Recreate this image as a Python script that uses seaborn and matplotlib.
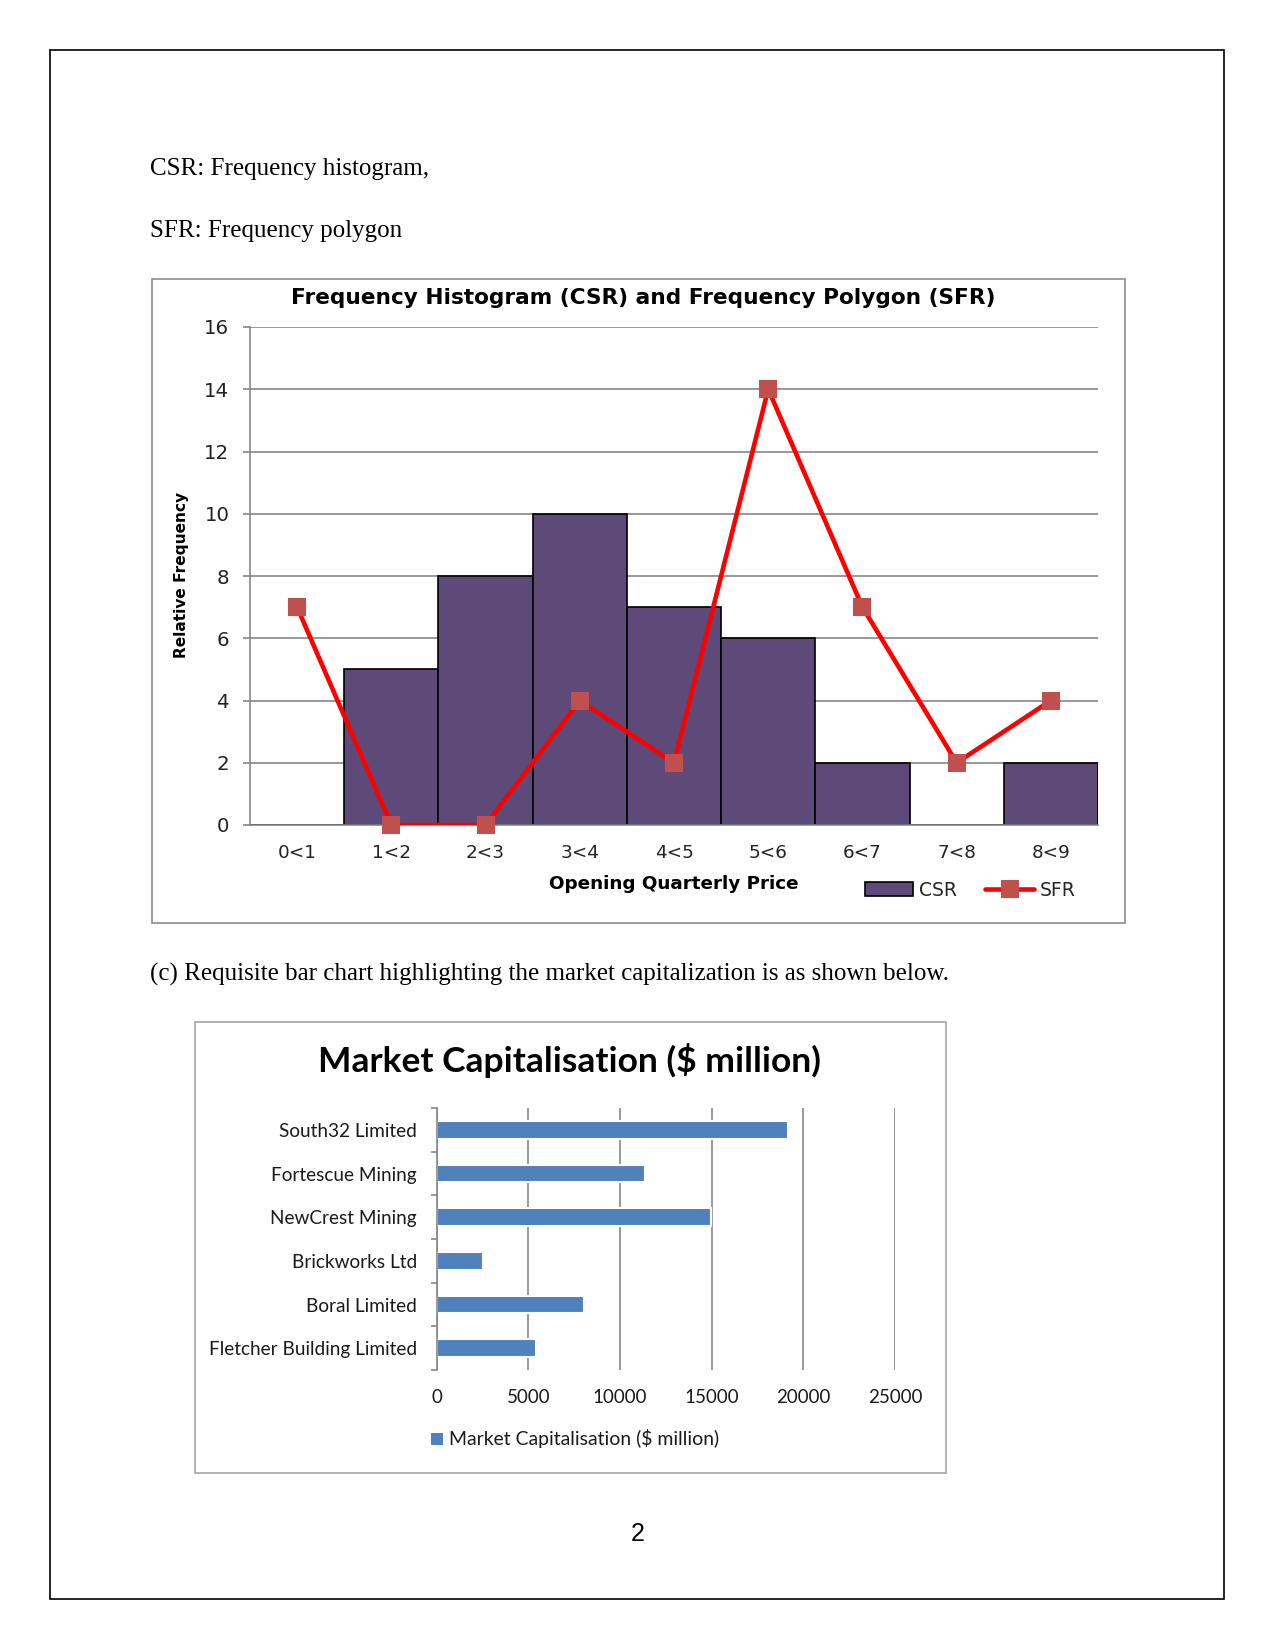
import matplotlib
matplotlib.use("Agg")
import matplotlib.pyplot as plt
import seaborn as sns
import pandas as pd
from matplotlib.patches import Rectangle, Patch
from matplotlib.lines import Line2D

# ---------------- data ----------------
price_bins = ["0<1", "1<2", "2<3", "3<4", "4<5", "5<6", "6<7", "7<8", "8<9"]
csr_freq = [0, 5, 8, 10, 7, 6, 2, 0, 2]
sfr_freq = [7, 0, 0, 4, 2, 14, 7, 2, 4]
freq_ticks = [0, 2, 4, 6, 8, 10, 12, 14, 16]

companies = ["South32 Limited", "Fortescue Mining", "NewCrest Mining",
             "Brickworks Ltd", "Boral Limited", "Fletcher Building Limited"]
market_cap = [19160, 11390, 14980, 2510, 8060, 5420]
cap_ticks = [0, 5000, 10000, 15000, 20000, 25000]

# ---------------- layout helpers ----------------
W, H = 1275, 1650
sns.set_theme(style="white")
plt.rcParams['font.family'] = ['DejaVu Sans']

fig = plt.figure(figsize=(8.5, 11), dpi=150)
fig.patch.set_facecolor("white")


def fx(x):
    return x / W


def fy(y):
    return 1 - y / H


def rect(l, t, r, b):
    return [l / W, 1 - b / H, (r - l) / W, (b - t) / H]


def box(l, t, r, b, color, lw):
    fig.patches.append(Rectangle((l / W, 1 - b / H), (r - l) / W, (b - t) / H,
                                 transform=fig.transFigure, fill=False,
                                 edgecolor=color, linewidth=lw, zorder=0))


# page border
box(50, 50, 1224, 1599, "black", 0.8)
# chart boxes
box(151.5, 278.8, 1124.6, 922.6, "#8c8c8c", 0.8)
box(194.6, 1021.5, 945.7, 1472.8, "#a6a6a6", 0.8)

serif = ["Liberation Serif", "DejaVu Serif"]
fig.text(fx(150), fy(175), "CSR: Frequency histogram,", family=serif,
         fontsize=12, va="baseline", ha="left", color="black")
fig.text(fx(150), fy(237), "SFR: Frequency polygon", family=serif,
         fontsize=12, va="baseline", ha="left", color="black")
fig.text(fx(150), fy(981),
         "(c) Requisite bar chart highlighting the market capitalization is as shown below.",
         family=serif, fontsize=12, va="baseline", ha="left", color="black")
fig.text(fx(637.5), fy(1541), "2", family=["Liberation Sans", "DejaVu Sans"],
         fontsize=12, va="baseline", ha="center", color="black")

# ---------------- chart 1 ----------------
grid_c = "#868686"
ax1 = fig.add_axes(rect(250, 327, 1098, 825))
df1 = pd.DataFrame({"bin": price_bins, "CSR": csr_freq, "SFR": sfr_freq})
sns.barplot(data=df1, x="bin", y="CSR", order=price_bins, ax=ax1,
            color="#5E4A78", saturation=1, width=1.0,
            edgecolor="black", linewidth=0.8, zorder=2)
sns.pointplot(data=df1, x="bin", y="SFR", order=price_bins, ax=ax1,
              color="#FF0000", markers="s", linestyles="-", errorbar=None,
              linewidth=2.2, markersize=0, zorder=3)
ax1.plot(range(len(price_bins)), df1["SFR"], linestyle="none", marker="s",
         markersize=7.5, markerfacecolor="#C0504D", markeredgecolor="#C0504D",
         zorder=4, clip_on=False)
ax1.set_xlim(-0.5, len(price_bins) - 0.5)
ax1.set_ylim(0, 16)
ax1.set_yticks(freq_ticks)
ax1.yaxis.grid(True, color=grid_c, linewidth=0.8, zorder=0)
ax1.set_axisbelow(True)
for s in ["top", "right"]:
    ax1.spines[s].set_visible(False)
ax1.spines["left"].set_color(grid_c)
ax1.spines["left"].set_linewidth(0.8)
ax1.spines["bottom"].set_color(grid_c)
ax1.spines["bottom"].set_linewidth(0.8)
ax1.tick_params(axis="y", direction="out", length=3.4, width=0.8, color=grid_c,
                pad=6.5, labelsize=9.5, labelcolor="#222222", left=True)
ax1.tick_params(axis="x", length=0, pad=9, labelsize=8.8, labelcolor="#222222")
ax1.set_xlabel("")
ax1.set_ylabel("")
ax1.set_facecolor("white")

fig.text(fx(643), fy(298), "Frequency Histogram (CSR) and Frequency Polygon (SFR)",
         fontsize=10.4, fontweight="bold", ha="center", va="center", color="black")
fig.text(fx(182), fy(575), "Relative Frequency", fontsize=7.4, fontweight="bold",
         rotation=90, ha="center", va="center", color="black")
fig.text(fx(674), fy(884), "Opening Quarterly Price", fontsize=8.8, fontweight="bold",
         ha="center", va="center", color="black")

handles1 = [Patch(facecolor="#5E4A78", edgecolor="black", linewidth=0.8, label="CSR"),
            Line2D([0], [0], color="#FF0000", linewidth=2.2, marker="s",
                   markersize=7.5, markerfacecolor="#C0504D",
                   markeredgecolor="#C0504D", label="SFR")]
leg1 = fig.legend(handles=handles1, loc="center", bbox_to_anchor=(fx(970), fy(890)),
                  ncol=2, frameon=False, fontsize=9, handlelength=2.6,
                  handletextpad=0.3, columnspacing=1.5, borderpad=0)

# ---------------- chart 2 ----------------
calibri = ["Lato", "DejaVu Sans"]
ax2 = fig.add_axes(rect(436.6, 1108, 895, 1370))
df2 = pd.DataFrame({"company": companies, "cap": market_cap})
sns.barplot(data=df2, y="company", x="cap", order=companies, ax=ax2,
            color="#4F81BD", saturation=1, width=0.4, orient="h", zorder=2)
ax2.set_xlim(0, 25000)
ax2.set_ylim(len(companies) - 0.5, -0.5)
ax2.set_xticks(cap_ticks)
ax2.xaxis.grid(True, color=grid_c, linewidth=0.8, zorder=0)
ax2.set_axisbelow(True)
for s in ["top", "right", "bottom"]:
    ax2.spines[s].set_visible(False)
ax2.spines["left"].set_color(grid_c)
ax2.spines["left"].set_linewidth(0.8)
ax2.set_yticks([i - 0.5 for i in range(len(companies) + 1)], minor=True)
ax2.tick_params(axis="y", which="minor", length=3, width=0.8, color=grid_c, left=True)
ax2.tick_params(axis="y", which="major", length=0, pad=9.5)
ax2.tick_params(axis="x", length=0, pad=9)
for lab in ax2.get_yticklabels():
    lab.set_family(calibri)
    lab.set_fontsize(9.1)
    lab.set_color("#1a1a1a")
for lab in ax2.get_xticklabels():
    lab.set_family(calibri)
    lab.set_fontsize(9)
    lab.set_color("#1a1a1a")
ax2.set_xlabel("")
ax2.set_ylabel("")
ax2.set_facecolor("white")

fig.text(fx(569), fy(1060), "Market Capitalisation ($ million)", family=calibri,
         fontsize=17, fontweight="bold", ha="center", va="center", color="black")
handles2 = [Patch(facecolor="#4F81BD", edgecolor="none",
                  label="Market Capitalisation ($ million)")]
leg2 = fig.legend(handles=handles2, loc="center", bbox_to_anchor=(fx(575), fy(1439)),
                  frameon=False, handlelength=0.6, handleheight=0.6,
                  handletextpad=0.3, borderpad=0,
                  prop={"family": calibri, "size": 9.3})
for t in leg2.get_texts():
    t.set_color("#1a1a1a")

fig.savefig("out.png", dpi=150, facecolor="white")
